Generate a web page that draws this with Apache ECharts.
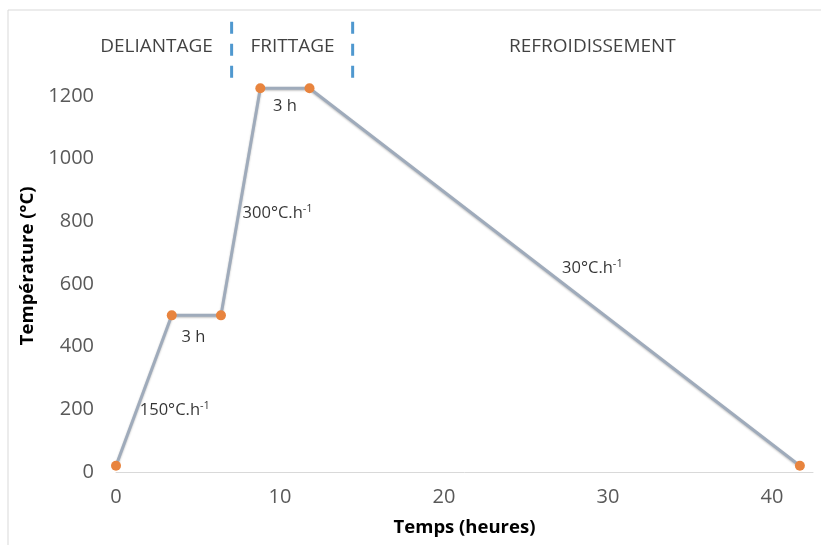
<!DOCTYPE html>
<html><head><meta charset="utf-8">
<script src="https://cdn.jsdelivr.net/npm/echarts@6/dist/echarts.min.js"></script>
<style>html,body{margin:0;padding:0;background:#fff}#c{width:821px;height:545px}</style>
</head><body><div id="c"></div>
<script>
// Thermal cycle: time (h) and temperature (°C)
const timeHours = [0, 3.4, 6.4, 8.8, 11.8, 41.7];
const temperature = [20, 500, 500, 1225, 1225, 20];
// Annotations (data coordinates)
const annoText = ['150°C.h', '3 h', '300°C.h', '3 h', '30°C.h'];
const annoSup = ['-1', '', '-1', '', '-1'];
const annoX = [1.45, 4.72, 7.72, 10.3, 27.2];
const annoY = [198, 431, 827, 1166, 651];
const annoAlign = ['left', 'center', 'left', 'center', 'left'];
// Phases
const phaseNames = ['DELIANTAGE', 'FRITTAGE', 'REFROIDISSEMENT'];
const phaseCenters = [2.47, 10.76, 29.05];
const phaseLabelY = 1357;
const phaseBounds = [7.05, 14.43];
const phaseLineY = [1258, 1450];
const xTicks = [0, 10, 20, 30, 40];
const yTicks = [0, 200, 400, 600, 800, 1000, 1200];

const FONT = '"Open Sans", "Liberation Sans", sans-serif';
const chart = echarts.init(document.getElementById('c'), null, {renderer: 'canvas'});

const rich = {
  a: {fontSize: 16.5, fontFamily: FONT, color: '#000'},
  s: {fontSize: 11, fontFamily: FONT, color: '#000', verticalAlign: 'top', padding: [0, 0, 9, 0]}
};

const series = [
  {
    type: 'line',
    data: timeHours.map((t, i) => [t, temperature[i]]),
    symbol: 'circle', symbolSize: 10,
    lineStyle: {color: '#9fabbb', width: 3, shadowColor: 'rgba(0,0,0,0.25)', shadowBlur: 2, shadowOffsetY: 1},
    itemStyle: {color: '#e8843e'},
    z: 3, silent: true
  },
  {
    type: 'scatter',
    symbolSize: 0,
    data: annoText.map((t, i) => ({value: [annoX[i], annoY[i]], t: t, s: annoSup[i], al: annoAlign[i]})),
    label: {
      show: true, position: 'inside',
      formatter: p => p.data.s ? '{a|' + p.data.t + '}{s|' + p.data.s + '}' : '{a|' + p.data.t + '}',
      rich: rich
    },
    silent: true
  },
  {
    type: 'scatter',
    symbolSize: 0,
    data: phaseNames.map((n, i) => ({value: [phaseCenters[i], phaseLabelY], name: n})),
    label: {show: true, position: 'inside', formatter: p => p.name, fontSize: 19, fontFamily: FONT, color: '#111'},
    silent: true
  }
];
phaseBounds.forEach(b => {
  series.push({
    type: 'line', data: phaseLineY.map(y => [b, y]), symbol: 'none',
    lineStyle: {color: '#4f98cf', width: 3, type: [12, 10]}, silent: true
  });
});

series[1].data.forEach(d => {
  d.label = {align: d.al, position: d.al === 'left' ? 'right' : 'inside', offset: d.al === 'left' ? [-5, 0] : [0, 0]};
});

chart.setOption({
  animation: false,
  graphic: [{type: 'rect', shape: {x: 8, y: 10, width: 830, height: 560}, style: {fill: 'none', stroke: '#d9d9d9', lineWidth: 1}, silent: true}],
  grid: {left: 116, right: 8, top: 17.7, bottom: 73, containLabel: false},
  xAxis: {
    type: 'value', min: 0, max: 42.5, interval: 10,
    name: 'Temps (heures)', nameLocation: 'middle', nameGap: 46,
    nameTextStyle: {fontSize: 18.5, fontWeight: 'bold', fontFamily: FONT, color: '#000'},
    axisLine: {show: true, lineStyle: {color: '#d9d9d9', width: 1}},
    axisTick: {show: false},
    splitLine: {show: false},
    axisLabel: {fontSize: 20, fontFamily: FONT, color: '#595959', margin: 15,
      formatter: v => xTicks.indexOf(v) >= 0 ? String(v) : ''}
  },
  yAxis: {
    type: 'value', min: 0, max: 1450, interval: 200,
    name: 'Température (°C)', nameLocation: 'middle', nameGap: 67, nameRotate: 90,
    nameTextStyle: {fontSize: 18.5, fontWeight: 'bold', fontFamily: FONT, color: '#000', padding: [0, 42, 0, 0]},
    axisLine: {show: false}, axisTick: {show: false}, splitLine: {show: false},
    axisLabel: {fontSize: 20, fontFamily: FONT, color: '#595959', margin: 22,
      formatter: v => yTicks.indexOf(v) >= 0 ? String(v) : ''}
  },
  series: series
});
</script></body></html>
